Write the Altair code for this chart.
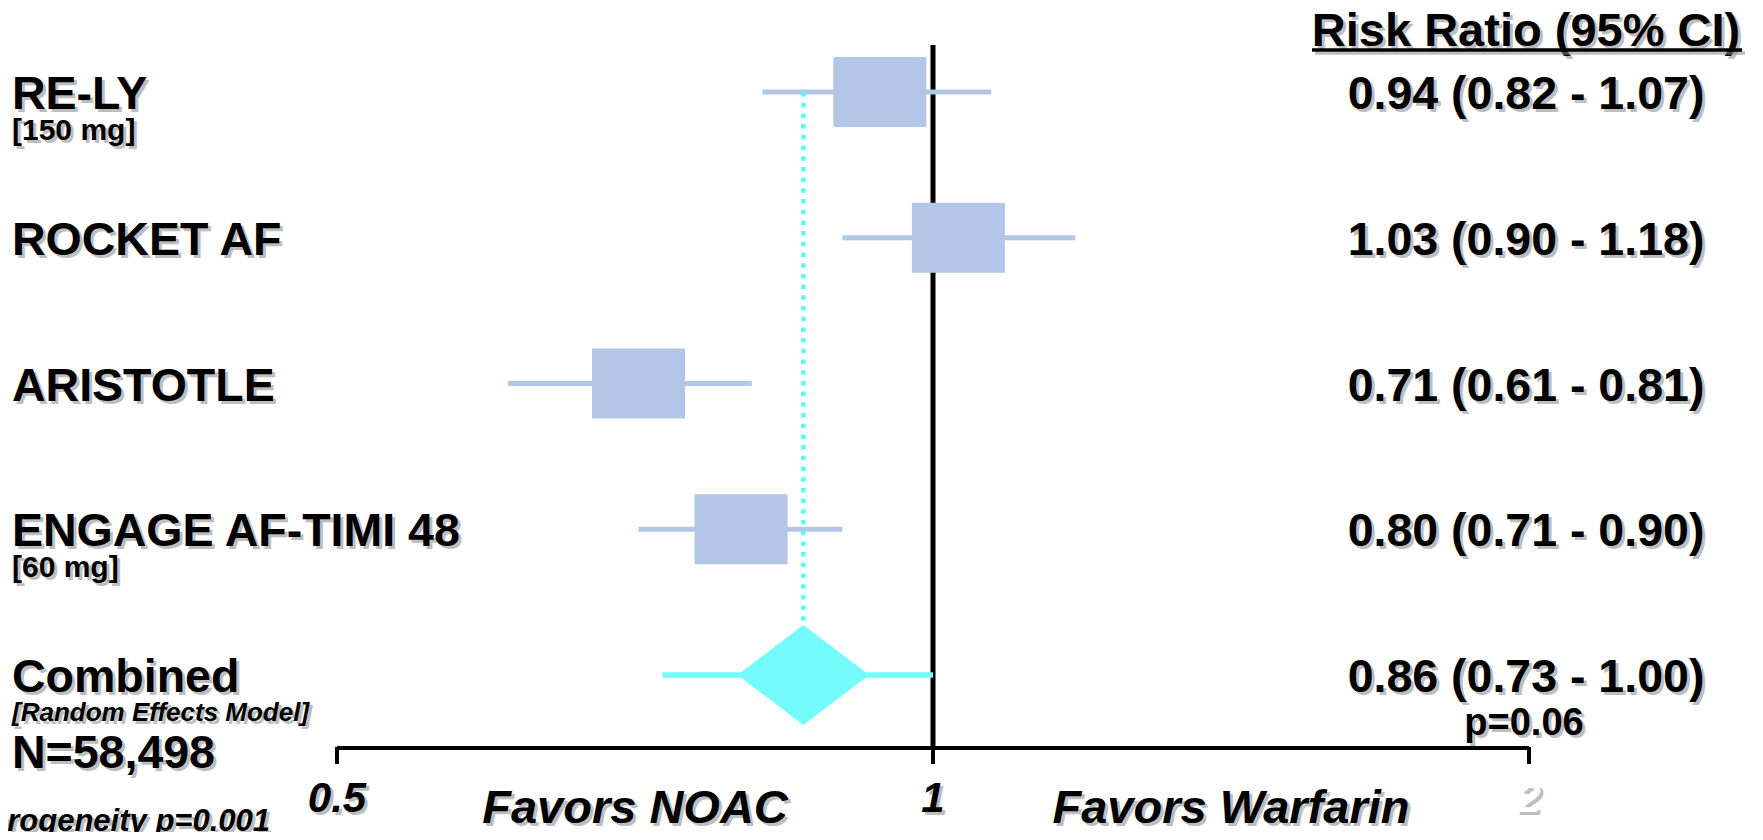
import math
import altair as alt
import pandas as pd

# ------------------------------------------------------------------ data
studies = ["RE-LY", "ROCKET AF", "ARISTOTLE", "ENGAGE AF-TIMI 48", "Combined"]
doses = ["[150 mg]", "", "", "[60 mg]", ""]
risk_ratio = [0.94, 1.03, 0.71, 0.80, 0.86]
ci_low = [0.82, 0.90, 0.61, 0.71, 0.73]
ci_high = [1.07, 1.18, 0.81, 0.90, 1.00]
is_pooled = [False, False, False, False, True]

tick_values = [0.5, 1, 2]
tick_text = ["0.5", "1", "2"]
favors_text = ["Favors NOAC", "Favors Warfarin"]

header_text = "Risk Ratio (95% CI)"
pooled_model = "[Random Effects Model]"
pooled_n = "N=58,498"
pooled_p = "p=0.06"
heterogeneity_text = "Heterogeneity p=0.001"

# ------------------------------------------------------------------ tables
rows = pd.DataFrame({
    "row": list(range(len(studies))),
    "study": studies,
    "dose": doses,
    "rr": risk_ratio,
    "lo": ci_low,
    "hi": ci_high,
    "pooled": is_pooled,
})
rows["ci_text"] = [f"{r:.2f} ({l:.2f} - {h:.2f})" for r, l, h in zip(risk_ratio, ci_low, ci_high)]
study_rows = rows[~rows["pooled"]].drop(columns=["pooled"])
pooled_rows = rows[rows["pooled"]].drop(columns=["pooled"]).copy()
pooled_rows["model"] = pooled_model
pooled_rows["n"] = pooled_n
pooled_rows["p"] = pooled_p
pooled_rows["top"] = rows["row"].min()
rows = rows.drop(columns=["pooled"])

ticks = pd.DataFrame({"v": tick_values, "label": tick_text})
axis_span = pd.DataFrame({"lo": [min(tick_values)], "hi": [max(tick_values)]})
ref_df = pd.DataFrame({"v": [1.0]})
favors = pd.DataFrame({
    "v": [math.sqrt(tick_values[0] * tick_values[1]), math.sqrt(tick_values[1] * tick_values[2])],
    "label": favors_text,
})
header_df = pd.DataFrame({"t": [header_text]})
het_df = pd.DataFrame({"t": [heterogeneity_text]})

# ------------------------------------------------------------------ styles
FONT = "Liberation Sans"
BLUE = "#B4C6E7"
CYAN = "#74FCFC"
DOT = "#5CFAFA"
SHADOW = "#8a8a8a"

x_scale = alt.Scale(type="log", domain=[0.5, 2], range=[329, 1521], nice=False)
y_scale = alt.Scale(domain=[0, 4], range=[84, 667], nice=False, zero=False)


def X(field):
    return alt.X(field, type="quantitative", scale=x_scale, axis=None)


def Y(field):
    return alt.Y(field, type="quantitative", scale=y_scale, axis=None)


def text_layers(data, enc, mark, color="black", shadow=True):
    out = []
    if shadow:
        m = dict(mark)
        m["dx"] = m.get("dx", 0) + 3
        m["dy"] = m.get("dy", 0) + 3
        out.append(alt.Chart(data).mark_text(color=SHADOW, opacity=0.55, font=FONT, **m).encode(**enc))
    main_enc = dict(enc)
    if isinstance(color, str):
        out.append(alt.Chart(data).mark_text(color=color, font=FONT, **mark).encode(**main_enc))
    else:
        main_enc["color"] = color
        out.append(alt.Chart(data).mark_text(font=FONT, **mark).encode(**main_enc))
    return out


# ------------------------------------------------------------------ marks
ref_line = alt.Chart(ref_df).mark_rule(color="black", strokeWidth=5).encode(
    x=X("v"), y=alt.value(37), y2=alt.value(740)
)

axis_line = alt.Chart(axis_span).mark_rule(color="black", strokeWidth=4).encode(
    x=X("lo"), x2="hi:Q", y=alt.value(740)
)
axis_ticks = alt.Chart(ticks).mark_rule(color="black", strokeWidth=4).encode(
    x=X("v"), y=alt.value(739), y2=alt.value(756)
)

ci_study = alt.Chart(study_rows).mark_rule(color=BLUE, strokeWidth=5).encode(
    x=X("lo"), x2="hi:Q", y=Y("row")
)
ci_pooled = alt.Chart(pooled_rows).mark_rule(color=CYAN, strokeWidth=5.5).encode(
    x=X("lo"), x2="hi:Q", y=Y("row")
)
dotted = alt.Chart(pooled_rows).mark_rule(
    color=DOT, strokeWidth=4.5, strokeDash=[4.5, 6.2]
).encode(x=X("rr"), y=Y("top"), y2="row:Q")

boxes = alt.Chart(study_rows).mark_point(
    shape="M-1,-0.75L1,-0.75L1,0.75L-1,0.75Z",
    filled=True, size=8650, color=BLUE, opacity=1, strokeWidth=0,
).encode(x=X("rr"), y=Y("row"))

diamond = alt.Chart(pooled_rows).mark_point(
    shape="M-1,0L0,-0.76L1,0L0,0.76Z",
    filled=True, size=17320, color=CYAN, opacity=1, strokeWidth=0,
).encode(x=X("rr"), y=Y("row"))

layers = [ref_line, axis_line, axis_ticks, ci_study, ci_pooled, dotted, boxes, diamond]

# study names
layers += text_layers(
    rows, dict(x=alt.value(4), y=Y("row"), text="study:N"),
    dict(align="left", baseline="middle", fontSize=46.5, fontWeight="bold", dy=3),
)
# doses
layers += text_layers(
    rows, dict(x=alt.value(4), y=Y("row"), text="dose:N"),
    dict(align="left", baseline="middle", fontSize=30, fontWeight="bold", dy=39),
)
# pooled model note
layers += text_layers(
    pooled_rows, dict(x=alt.value(4), y=Y("row"), text="model:N"),
    dict(align="left", baseline="middle", fontSize=26, fontWeight="bold",
         fontStyle="italic", dy=38),
)
# N
layers += text_layers(
    pooled_rows, dict(x=alt.value(4), y=Y("row"), text="n:N"),
    dict(align="left", baseline="middle", fontSize=46.5, fontWeight="bold", dy=79),
)
# RR (95% CI) values
layers += text_layers(
    rows, dict(x=alt.value(1518), y=Y("row"), text="ci_text:N"),
    dict(align="center", baseline="middle", fontSize=46.5, fontWeight="bold", dy=3),
)
# p value
layers += text_layers(
    pooled_rows, dict(x=alt.value(1516), y=Y("row"), text="p:N"),
    dict(align="center", baseline="middle", fontSize=38, fontWeight="bold", dy=49),
)
# header
layers += text_layers(
    header_df, dict(x=alt.value(1518), y=alt.value(24), text="t:N"),
    dict(align="center", baseline="middle", fontSize=47, fontWeight="bold"),
)
underline_shadow = alt.Chart(header_df).mark_rule(
    color=SHADOW, opacity=0.55, strokeWidth=3.5
).encode(x=alt.value(1307), x2=alt.value(1737), y=alt.value(45))
underline = alt.Chart(header_df).mark_rule(color="black", strokeWidth=3.5).encode(
    x=alt.value(1304), x2=alt.value(1734), y=alt.value(42)
)
layers += [underline_shadow, underline]
# axis tick labels
layers += text_layers(
    ticks, dict(x=X("v"), y=alt.value(791), text="label:N"),
    dict(align="center", baseline="middle", fontSize=42, fontWeight="bold", fontStyle="italic"),
    color=alt.condition("datum.v == 2", alt.value("white"), alt.value("black")),
)
# favors labels
layers += text_layers(
    favors, dict(x=X("v"), y=alt.value(801), text="label:N"),
    dict(align="center", baseline="middle", fontSize=47, fontWeight="bold", fontStyle="italic"),
)
# heterogeneity
layers += text_layers(
    het_df, dict(x=alt.value(262), y=alt.value(814), text="t:N"),
    dict(align="right", baseline="middle", fontSize=31, fontWeight="bold", fontStyle="italic"),
)

chart = alt.layer(*layers).properties(
    width=1747,
    height=824,
    padding=0,
    autosize=alt.AutoSizeParams(type="none"),
    background="white",
).configure_view(stroke=None)

chart.save("out.html", embed_options={"renderer": "svg", "actions": False})
